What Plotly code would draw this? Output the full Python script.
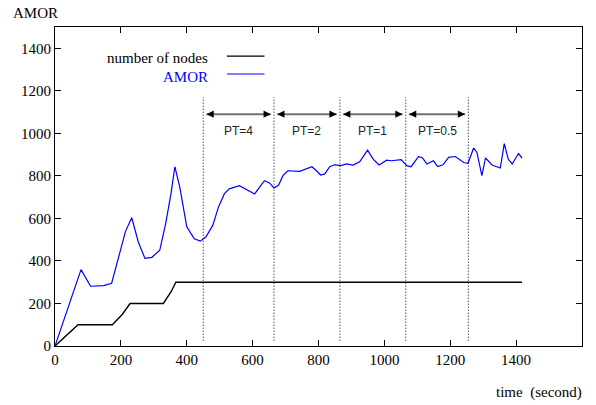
import plotly.graph_objects as go

# AMOR over time
amor_t = [0, 79, 108, 148, 172, 214, 233, 253, 273, 294, 318, 336, 352, 364, 379, 400,
          412, 423, 441, 458, 479, 496, 514, 529, 560, 585, 606, 636, 651, 665, 679, 692,
          707, 743, 763, 780, 794, 806, 819, 834, 849, 868, 885, 905, 925, 949, 966, 984,
          1007, 1022, 1051, 1068, 1081, 1104, 1116, 1129, 1149, 1162, 1178, 1195, 1215,
          1241, 1254, 1271, 1281, 1296, 1307, 1327, 1352, 1364, 1376, 1388, 1407, 1418]
amor_v = [0, 359, 281, 284, 295, 539, 603, 489, 412, 417, 450, 575, 715, 843, 746, 562,
          531, 504, 493, 512, 567, 652, 715, 739, 754, 731, 715, 777, 767, 743, 757, 801,
          824, 821, 832, 843, 824, 804, 809, 843, 852, 848, 856, 851, 866, 921, 879, 851,
          874, 871, 876, 848, 843, 891, 884, 856, 871, 844, 852, 887, 891,
          863, 859, 931, 910, 801, 884, 851, 837, 952, 879, 856, 905, 884]

# number of nodes over time
nodes_t = [0, 70, 174, 204, 228, 329, 352, 367, 1418]
nodes_v = [0, 100, 100, 148, 200, 200, 254, 300, 300]

# phase boundaries and the PT value used in each phase
phase_bounds = [450, 665, 865, 1065, 1255]
phase_labels = ["PT=4", "PT=2", "PT=1", "PT=0.5"]

x_ticks = list(range(0, 1601, 200))
y_ticks = list(range(0, 1401, 200))

serif = "Liberation Serif"
sans = "Liberation Sans"

fig = go.Figure()
fig.add_trace(go.Scatter(x=nodes_t, y=nodes_v, mode="lines",
                         line=dict(color="black", width=1.4), name="number of nodes"))
fig.add_trace(go.Scatter(x=amor_t, y=amor_v, mode="lines",
                         line=dict(color="#0000ff", width=1.2), name="AMOR"))

shapes = []
annotations = []

# dotted phase boundaries
for b in phase_bounds:
    shapes.append(dict(type="line", xref="x", yref="y", x0=b, x1=b, y0=25, y1=1170,
                       line=dict(color="black", width=1, dash="1px,2px")))

# double-headed arrows with phase labels
arrow_y = 1090
gap = 10
for i, lab in enumerate(phase_labels):
    a, b = phase_bounds[i] + gap, phase_bounds[i + 1] - gap
    shapes.append(dict(type="line", xref="x", yref="y", x0=a, x1=b, y0=arrow_y, y1=arrow_y,
                       line=dict(color="#707070", width=2)))
    for tip, tail in ((a, a + 25), (b, b - 25)):
        annotations.append(dict(x=tip, y=arrow_y, ax=tail, ay=arrow_y, xref="x", yref="y",
                                axref="x", ayref="y", text="", showarrow=True,
                                arrowhead=2, arrowsize=1.2, arrowwidth=1.2,
                                arrowcolor="black"))
    annotations.append(dict(x=(phase_bounds[i] + phase_bounds[i + 1]) / 2, y=1010,
                            xref="x", yref="y", text=lab, showarrow=False,
                            font=dict(family=sans, size=12, color="#222")))

# key
key = [("number of nodes", "black", 1363, 1355), ("AMOR", "#0000ff", 1279, 1265)]
for label, color, ly, ty in key:
    shapes.append(dict(type="line", xref="x", yref="y", x0=522, x1=636, y0=ly, y1=ly,
                       line=dict(color=color, width=1.2)))
    annotations.append(dict(x=470, y=ty, xref="x", yref="y", text=label, showarrow=False,
                            xanchor="right", font=dict(family=serif, size=15, color=color)))

# axis titles
annotations.append(dict(x=-0.083, y=1.044, xref="paper", yref="paper", text="AMOR",
                        showarrow=False, xanchor="left", yanchor="middle",
                        font=dict(family=serif, size=15, color="black")))
annotations.append(dict(x=1.003, y=-0.147, xref="paper", yref="paper", text="time  (second)",
                        showarrow=False, xanchor="right", yanchor="middle",
                        font=dict(family=serif, size=15, color="black")))

axis_common = dict(showline=True, linecolor="black", linewidth=1, mirror="ticks",
                   ticks="inside", ticklen=6, tickcolor="black", showgrid=False,
                   zeroline=False, tickfont=dict(family=serif, size=15, color="black"))

fig.update_layout(
    width=596, height=405,
    margin=dict(l=55, r=14, t=27, b=59),
    paper_bgcolor="white", plot_bgcolor="white",
    showlegend=False,
    xaxis=dict(range=[0, 1600], tickvals=x_ticks, **axis_common),
    yaxis=dict(range=[0, 1500], tickvals=y_ticks, **axis_common),
    shapes=shapes, annotations=annotations,
)

fig.write_html("out.html")
